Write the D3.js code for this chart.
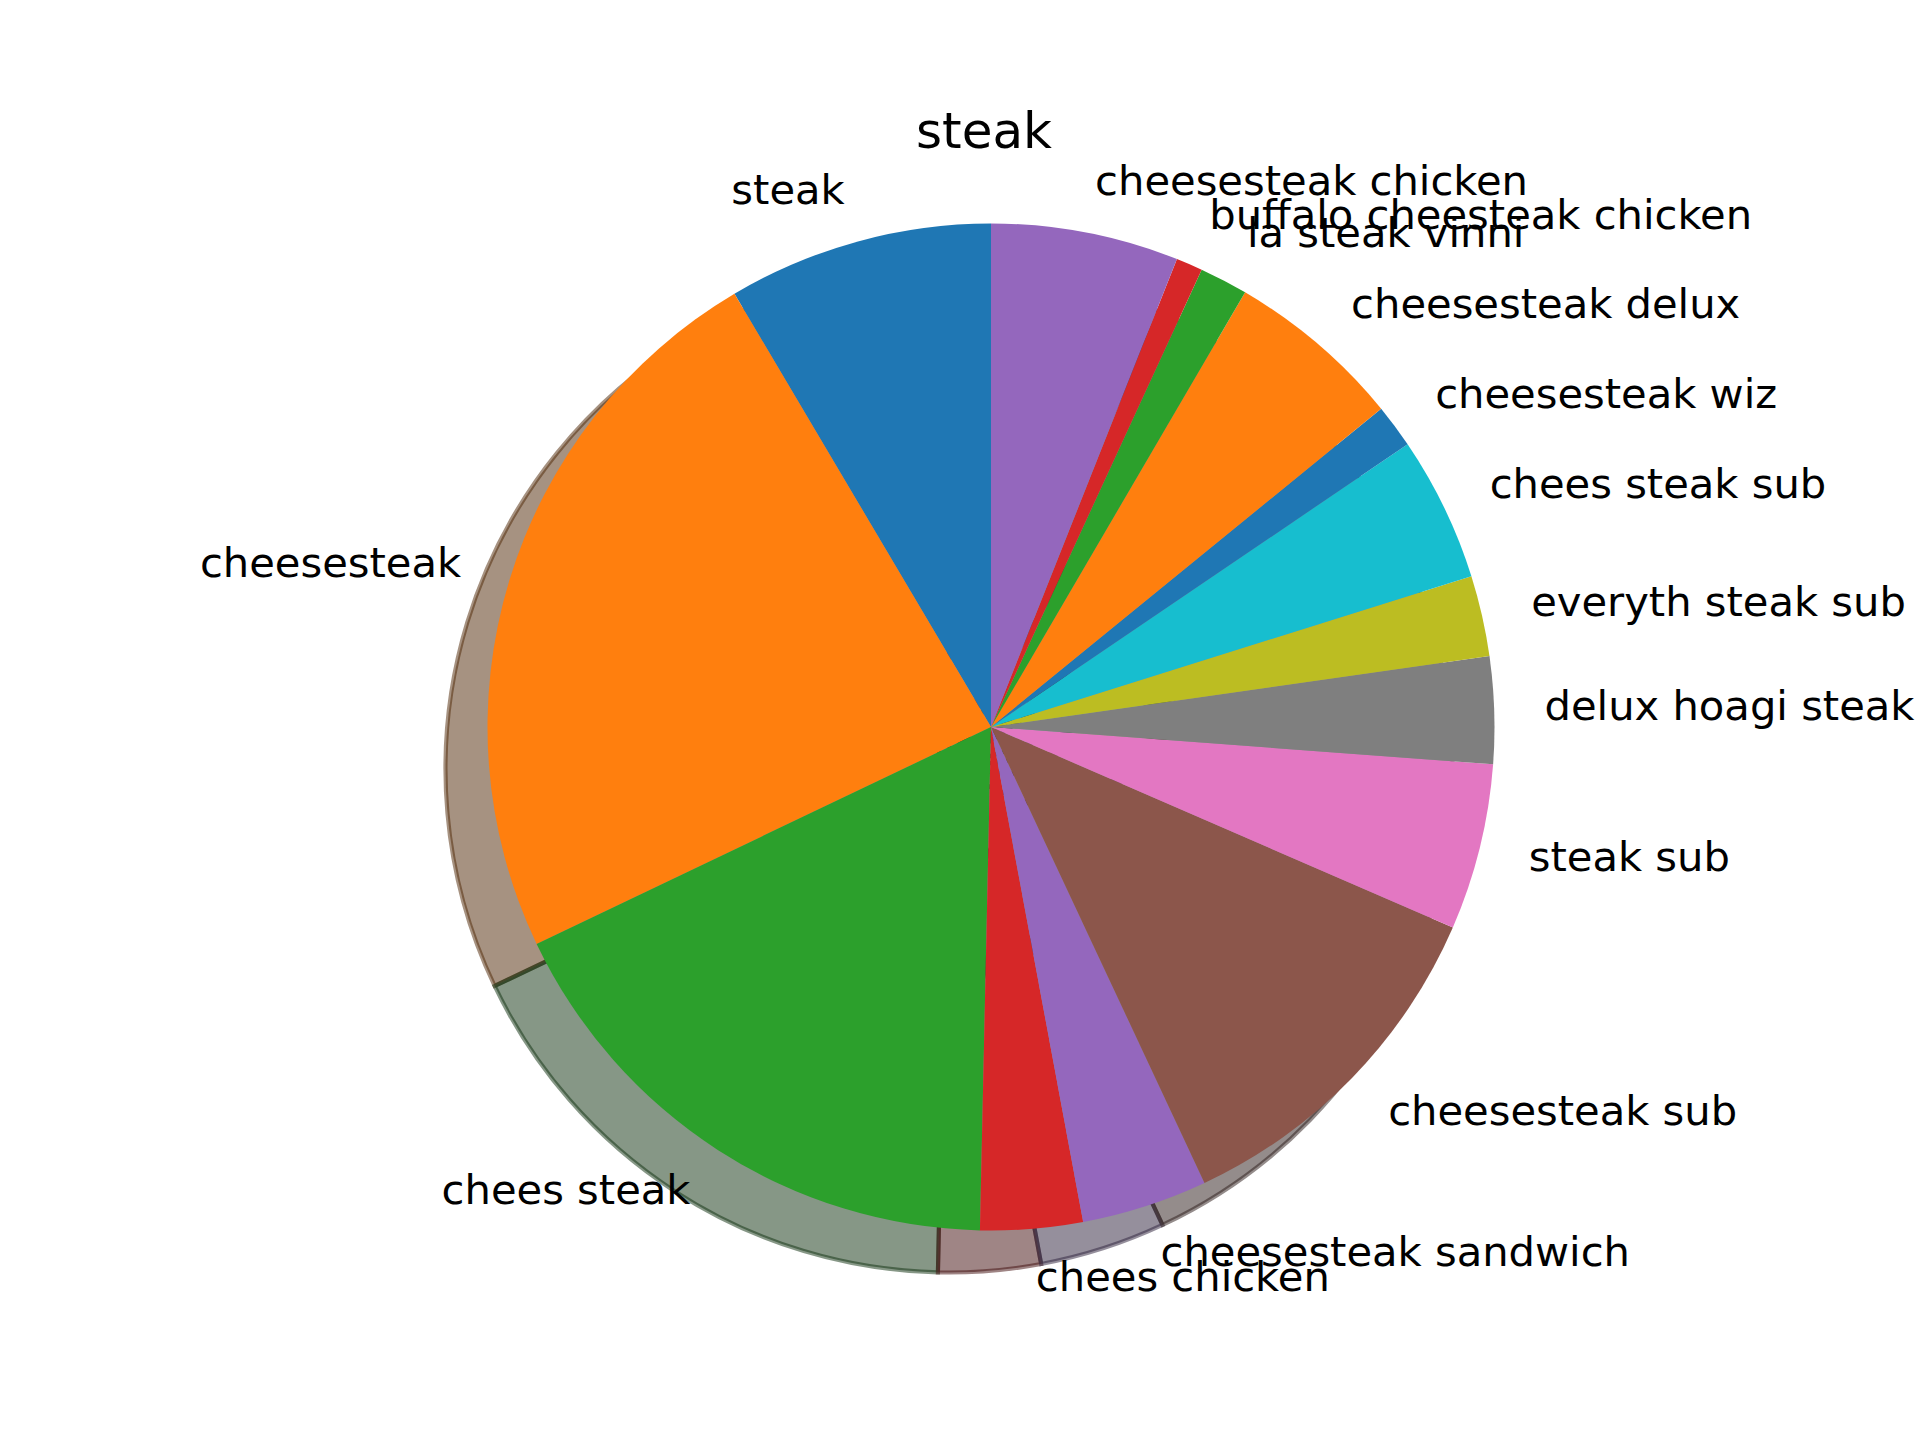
<!DOCTYPE html>
<html>
<head>
<meta charset="utf-8">
<script src="https://cdn.jsdelivr.net/npm/d3@7"></script>
<style>
  html, body { margin: 0; padding: 0; background: #ffffff; }
  svg { display: block; }
</style>
</head>
<body>
<div id="chart"></div>
<script>
// ---- data (share of total, %) ----
const titleText = "steak";
const categories = [
  "steak", "cheesesteak", "chees steak", "chees chicken", "cheesesteak sandwich",
  "cheesesteak sub", "steak sub", "delux hoagi steak", "everyth steak sub",
  "chees steak sub", "cheesesteak wiz", "cheesesteak delux", "la steak vinni",
  "buffalo cheesteak chicken", "cheesesteak chicken"
];
const values = [
  8.51, 23.58, 17.56, 3.28, 4.04,
  11.51, 5.34, 3.43, 2.59,
  4.65, 1.40, 5.69, 1.55,
  0.85, 6.02
];
const palette = ["#1f77b4", "#ff7f0e", "#2ca02c", "#d62728", "#9467bd",
                 "#8c564b", "#e377c2", "#7f7f7f", "#bcbd22", "#17becf"];

// ---- layout ----
const W = 1920, H = 1440;
const cx = 991, cy = 727, R = 503.5;
const shadowOff = 42;
const labelFont = 41.67, titleFont = 50;

const svg = d3.select("#chart").append("svg")
  .attr("width", W).attr("height", H)
  .attr("viewBox", `0 0 ${W} ${H}`);
svg.append("rect").attr("width", W).attr("height", H).attr("fill", "#ffffff");

const data = categories.map((c, i) => ({ name: c, value: values[i], color: palette[i % palette.length] }));

// counter-clockwise from 12 o'clock (matplotlib startangle=90)
const pie = d3.pie().value(d => d.value).sort(null).startAngle(0).endAngle(-2 * Math.PI);
const arcs = pie(data);
const arc = d3.arc().innerRadius(0).outerRadius(R);
const labelArc = d3.arc().innerRadius(R * 1.1).outerRadius(R * 1.1);

// shadows
const gShadow = svg.append("g").attr("transform", `translate(${cx - shadowOff},${cy + shadowOff})`);
gShadow.selectAll("path").data(arcs).enter().append("path")
  .attr("d", arc)
  .each(function(d) {
    const c = d3.rgb(d.data.color);
    const s = d3.rgb(c.r * 0.3, c.g * 0.3, c.b * 0.3).formatHex();
    d3.select(this)
      .attr("fill", s).attr("fill-opacity", 0.5)
      .attr("stroke", s).attr("stroke-opacity", 0.5)
      .attr("stroke-width", 4.17).attr("stroke-linejoin", "miter");
  });

// wedges
const gPie = svg.append("g").attr("transform", `translate(${cx},${cy})`);
gPie.selectAll("path").data(arcs).enter().append("path")
  .attr("d", arc)
  .attr("fill", d => d.data.color);

// labels
const gLab = svg.append("g").attr("transform", `translate(${cx},${cy})`);
gLab.selectAll("text").data(arcs).enter().append("text")
  .attr("x", d => labelArc.centroid(d)[0])
  .attr("y", d => labelArc.centroid(d)[1] + 0.276 * labelFont)
  .attr("text-anchor", d => labelArc.centroid(d)[0] > 0 ? "start" : "end")
  .attr("font-family", "DejaVu Sans")
  .attr("font-size", labelFont)
  .attr("fill", "#000000")
  .text(d => d.data.name);

// title
svg.append("text")
  .attr("x", 984).attr("y", 147.8)
  .attr("text-anchor", "middle")
  .attr("font-family", "DejaVu Sans")
  .attr("font-size", titleFont)
  .attr("fill", "#000000")
  .text(titleText);
</script>
</body>
</html>
